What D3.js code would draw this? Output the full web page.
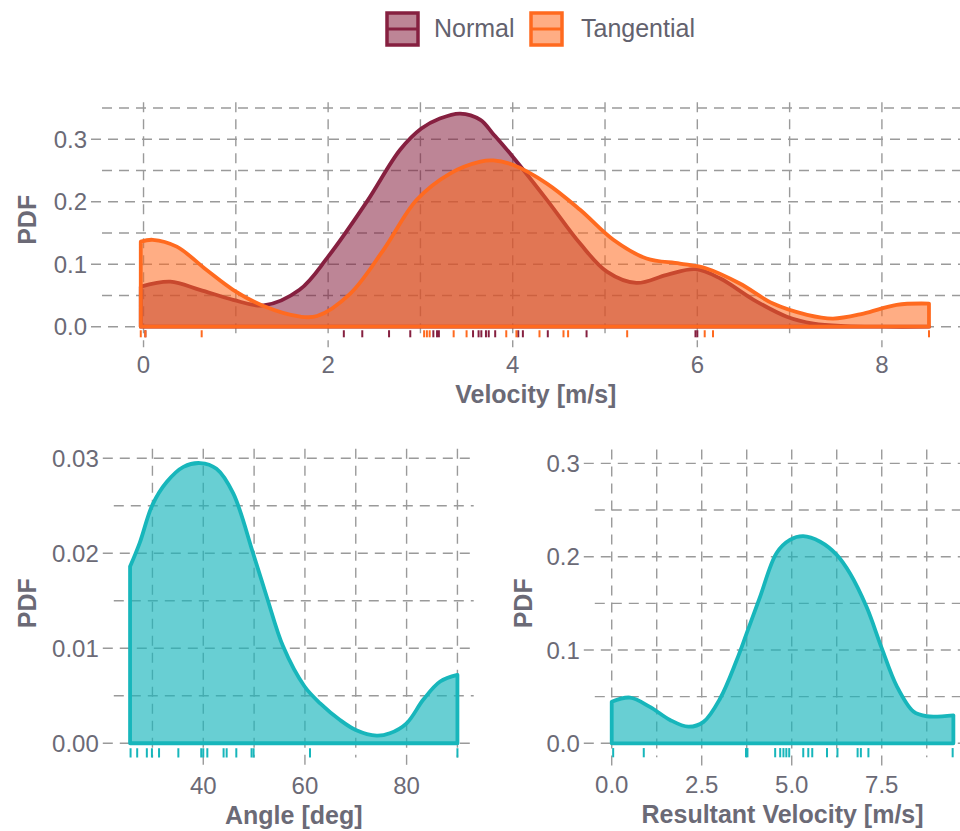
<!DOCTYPE html>
<html>
<head>
<meta charset="utf-8">
<script src="https://cdn.jsdelivr.net/npm/d3@7"></script>
<style>
  body { margin: 0; background: #fff; }
  text { font-family: "Liberation Sans", Arial, sans-serif; }
</style>
</head>
<body>
<div id="svg-container"></div>
<script>

// Density curves (x value, PDF value)

var normalX = [-0.03, 0.29, 0.61, 0.97, 1.30, 1.69, 2.0, 2.42, 2.78, 3.01, 3.21, 3.43, 3.65, 3.79, 4.0, 4.37, 4.73, 5.02, 5.34, 5.67, 5.98, 6.25, 6.61, 6.97, 7.26, 7.6, 8.0, 8.51];
var normalY = [0.064, 0.072, 0.059, 0.043, 0.034, 0.059, 0.112, 0.20, 0.283, 0.317, 0.333, 0.341, 0.331, 0.308, 0.272, 0.203, 0.133, 0.088, 0.070, 0.083, 0.092, 0.077, 0.043, 0.016, 0.005, 0.001, 0.0, 0.0];

var tangentialX = [-0.03, 0.1, 0.36, 0.68, 0.97, 1.30, 1.70, 1.88, 2.24, 2.60, 2.96, 3.32, 3.65, 3.79, 4.0, 4.37, 4.73, 5.09, 5.45, 5.81, 6.10, 6.46, 6.82, 7.19, 7.47, 7.80, 8.16, 8.51];
var tangentialY = [0.136, 0.139, 0.128, 0.091, 0.059, 0.033, 0.016, 0.017, 0.053, 0.123, 0.203, 0.245, 0.264, 0.266, 0.259, 0.229, 0.187, 0.139, 0.109, 0.101, 0.093, 0.069, 0.037, 0.019, 0.013, 0.021, 0.035, 0.037];

var angleX = [25.6, 27.5, 30, 32.8, 36.1, 39.4, 42.6, 45.9, 49.8, 52.5, 55.7, 59.9, 63, 66.9, 70, 74.1, 76.7, 80, 83.3, 86.6, 90];
var angleY = [0.0186, 0.0211, 0.0251, 0.0275, 0.0291, 0.0295, 0.0289, 0.0263, 0.0200, 0.0154, 0.0102, 0.0060, 0.0042, 0.00245, 0.0014, 0.0008, 0.00105, 0.0021, 0.0046, 0.0065, 0.0072];

var resultantX = [0, 0.51, 1.06, 1.62, 2.13, 2.55, 3.01, 3.47, 3.75, 4.12, 4.58, 4.95, 5.32, 5.79, 6.25, 6.62, 7.08, 7.5, 7.92, 8.38, 8.75, 9.49];
var resultantY = [0.0446, 0.049, 0.039, 0.025, 0.0178, 0.023, 0.048, 0.089, 0.118, 0.157, 0.204, 0.218, 0.222, 0.216, 0.202, 0.182, 0.146, 0.102, 0.061, 0.034, 0.029, 0.030];

// Rug values (observations)

var normalRug = [0.02, 2.17, 2.37, 2.66, 2.89, 3.14, 3.18, 3.20, 3.57, 3.63, 3.66, 3.71, 3.74, 3.81, 4.06, 4.11, 4.38, 4.80, 5.98, 6.0];
var tangentialRug = [-0.03, 0.02, 0.63, 3.04, 3.07, 3.10, 3.36, 3.50, 3.93, 4.04, 4.29, 4.55, 4.60, 5.24, 6.08, 6.17, 8.51];
var angleRug = [25.7, 27.0, 28.9, 29.9, 31.3, 35.1, 39.6, 40.0, 40.8, 44.0, 44.6, 46.5, 49.5, 49.9, 61.0, 90.0];
var resultantRug = [0.04, 0.89, 3.73, 3.77, 4.54, 4.68, 4.77, 4.85, 4.93, 5.32, 5.46, 5.57, 5.98, 6.27, 6.83, 6.92, 7.13, 9.47];

// Ticks and labels

var legendNames = ["Normal", "Tangential"];
var topXTicks = [0, 2, 4, 6, 8], topXMinor = [1, 3, 5, 7];
var topYTicks = [0, 0.1, 0.2, 0.3], topYMinor = [0.05, 0.15, 0.25, 0.35];
var angleXTicks = [40, 60, 80], angleXMinor = [30, 50, 70, 90];
var angleYTicks = [0, 0.01, 0.02, 0.03], angleYMinor = [0.005, 0.015, 0.025];
var resXTicks = [0, 2.5, 5, 7.5], resXMinor = [1.25, 3.75, 6.25, 8.75];
var resYTicks = [0, 0.1, 0.2, 0.3], resYMinor = [0.05, 0.15, 0.25];

var width = 960,
    height = 831;

var textColor = "#6b6a76",
    gridColor = "#9a9a9a",
    normalColor = "#862040",
    tangentialColor = "#ff6a1f",
    tealColor = "#17b6bb";

var svg = d3.select("#svg-container")
    .append("svg")
    .attr("width", width)
    .attr("height", height);

function zip(xs, ys) {
    return xs.map(function(x, i) { return { x: x, y: ys[i] }; });
}

// Draw one panel: grid, ticks, labels. Returns the scales.

function panel(opt) {
    var x = d3.scaleLinear().domain(opt.xDomain).range([opt.left, opt.right]);
    var y = d3.scaleLinear().domain(opt.yDomain).range([opt.bottom, opt.top]);
    var g = svg.append("g");
    var clipRight = Math.min(opt.right, width);

    // grid
    var grid = g.append("g")
        .attr("stroke", gridColor)
        .attr("stroke-width", 1.4)
        .attr("stroke-dasharray", "10,7");

    grid.selectAll("line.v")
        .data(opt.xTicks.concat(opt.xMinor))
        .enter().append("line")
        .attr("x1", function(d) { return x(d); })
        .attr("x2", function(d) { return x(d); })
        .attr("y1", opt.top)
        .attr("y2", function(d) { return opt.xTicks.indexOf(d) >= 0 ? opt.bottom + 10 : opt.bottom; });

    grid.selectAll("line.h")
        .data(opt.yTicks.concat(opt.yMinor))
        .enter().append("line")
        .attr("x1", function(d) { return opt.yTicks.indexOf(d) >= 0 ? opt.left - 11 : opt.left; })
        .attr("x2", clipRight)
        .attr("y1", function(d) { return y(d); })
        .attr("y2", function(d) { return y(d); });

    // tick labels
    g.selectAll("text.xt")
        .data(opt.xTicks)
        .enter().append("text")
        .attr("x", function(d) { return x(d); })
        .attr("y", opt.bottom + 36)
        .attr("text-anchor", "middle")
        .attr("font-size", "24px")
        .attr("fill", textColor)
        .text(function(d) { return opt.xFormat(d); });

    g.selectAll("text.yt")
        .data(opt.yTicks)
        .enter().append("text")
        .attr("x", opt.left - 15)
        .attr("y", function(d) { return y(d); })
        .attr("dy", "0.36em")
        .attr("text-anchor", "end")
        .attr("font-size", "24px")
        .attr("fill", textColor)
        .text(function(d) { return opt.yFormat(d); });

    // axis titles
    g.append("text")
        .attr("x", (opt.left + opt.right) / 2)
        .attr("y", opt.bottom + 66)
        .attr("text-anchor", "middle")
        .attr("font-size", "25px")
        .attr("font-weight", "bold")
        .attr("fill", textColor)
        .text(opt.xTitle);

    g.append("text")
        .attr("transform", "translate(" + opt.yTitleX + "," + ((opt.top + opt.bottom) / 2) + ") rotate(-90)")
        .attr("text-anchor", "middle")
        .attr("font-size", "25px")
        .attr("font-weight", "bold")
        .attr("fill", textColor)
        .text("PDF");

    return { x: x, y: y, bottom: opt.bottom, top: opt.top };
}

function density(p, data, color, fillOpacity) {
    var area = d3.area()
        .x(function(d) { return p.x(d.x); })
        .y0(p.y(0))
        .y1(function(d) { return p.y(d.y); })
        .curve(d3.curveCatmullRom.alpha(0.5));

    svg.append("path")
        .datum(data)
        .attr("d", area)
        .attr("fill", color)
        .attr("fill-opacity", fillOpacity)
        .attr("stroke", color)
        .attr("stroke-width", 3.8)
        .attr("stroke-linejoin", "round");
}

function rug(p, values, color) {
    var len = (p.bottom - p.top) * 0.03;
    svg.append("g")
        .selectAll("line")
        .data(values)
        .enter().append("line")
        .attr("x1", function(d) { return p.x(d); })
        .attr("x2", function(d) { return p.x(d); })
        .attr("y1", p.bottom)
        .attr("y2", p.bottom - len)
        .attr("stroke", color)
        .attr("stroke-width", 2);
}

// Top panel: Normal and Tangential velocity

var velPanel = panel({
    xDomain: [-0.45, 8.95], left: 102, right: 969.6,
    yDomain: [-0.017, 0.359], top: 102.3, bottom: 337.3,
    xTicks: topXTicks, xMinor: topXMinor, yTicks: topYTicks, yMinor: topYMinor,
    xFormat: d3.format("d"), yFormat: d3.format(".1f"),
    xTitle: "Velocity [m/s]", yTitleX: 36
});

density(velPanel, zip(normalX, normalY), normalColor, 0.55);
density(velPanel, zip(tangentialX, tangentialY), tangentialColor, 0.55);
rug(velPanel, normalRug, normalColor);
rug(velPanel, tangentialRug, tangentialColor);

// Bottom left: angle

var angPanel = panel({
    xDomain: [22.4, 93.2], left: 113.8, right: 473.7,
    yDomain: [-0.0015, 0.031], top: 448.8, bottom: 757.5,
    xTicks: angleXTicks, xMinor: angleXMinor, yTicks: angleYTicks, yMinor: angleYMinor,
    xFormat: d3.format("d"), yFormat: d3.format(".2f"),
    xTitle: "Angle [deg]", yTitleX: 36
});

density(angPanel, zip(angleX, angleY), tealColor, 0.65);
rug(angPanel, angleRug, tealColor);

// Bottom right: resultant velocity

var resPanel = panel({
    xDomain: [-0.47, 9.96], left: 594.8, right: 970.3,
    yDomain: [-0.015, 0.315], top: 449.4, bottom: 757.3,
    xTicks: resXTicks, xMinor: resXMinor, yTicks: resYTicks, yMinor: resYMinor,
    xFormat: d3.format(".1f"), yFormat: d3.format(".1f"),
    xTitle: "Resultant Velocity [m/s]", yTitleX: 532
});

density(resPanel, zip(resultantX, resultantY), tealColor, 0.65);
rug(resPanel, resultantRug, tealColor);

// Legend

var legendColors = [normalColor, tangentialColor];
var legendX = [387, 531], legendTextX = [434, 581];

var legend = svg.append("g");

legend.selectAll("rect")
    .data(legendNames)
    .enter().append("rect")
    .attr("x", function(d, i) { return legendX[i]; })
    .attr("y", 13)
    .attr("width", 31)
    .attr("height", 32)
    .attr("fill", function(d, i) { return legendColors[i]; })
    .attr("fill-opacity", 0.55)
    .attr("stroke", function(d, i) { return legendColors[i]; })
    .attr("stroke-width", 3.5);

legend.selectAll("line")
    .data(legendNames)
    .enter().append("line")
    .attr("x1", function(d, i) { return legendX[i]; })
    .attr("x2", function(d, i) { return legendX[i] + 31; })
    .attr("y1", 29)
    .attr("y2", 29)
    .attr("stroke", function(d, i) { return legendColors[i]; })
    .attr("stroke-width", 3);

legend.selectAll("text")
    .data(legendNames)
    .enter().append("text")
    .attr("x", function(d, i) { return legendTextX[i]; })
    .attr("y", 37)
    .attr("font-size", "25px")
    .attr("fill", "#63626e")
    .text(function(d) { return d; });

</script>
</body>
</html>
